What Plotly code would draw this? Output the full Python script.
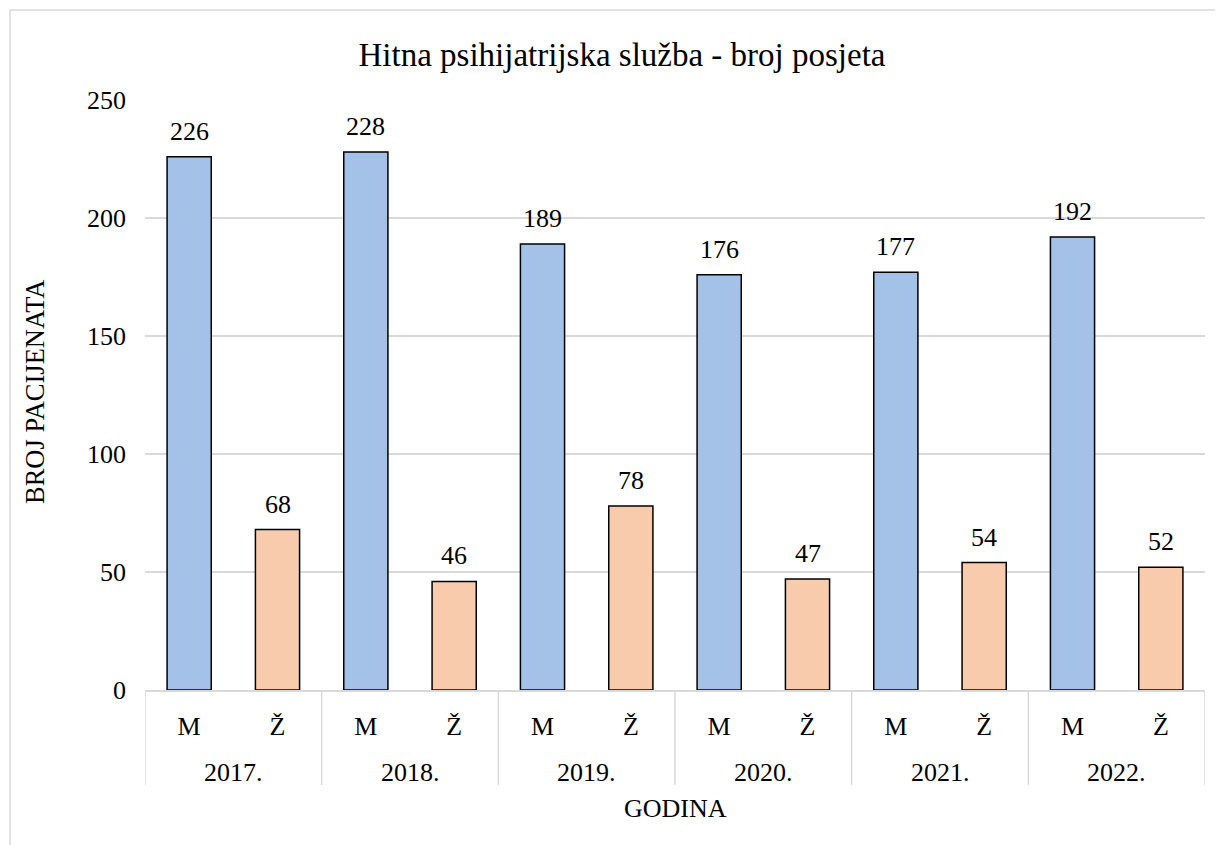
import plotly.graph_objects as go

years = ["2017.", "2018.", "2019.", "2020.", "2021.", "2022."]
genders = ["M", "Ž"]
m_values = [226, 228, 189, 176, 177, 192]
z_values = [68, 46, 78, 47, 54, 52]

title_text = "Hitna psihijatrijska služba - broj posjeta"
y_title = "BROJ PACIJENATA"
x_title = "GODINA"

COLOR_M = "#A4C2E7"
COLOR_Z = "#F8CBAD"
FONT = "Liberation Serif"

cats, labels, vals, cols = [], [], [], []
for i, yr in enumerate(years):
    for g, v, c in ((genders[0], m_values[i], COLOR_M), (genders[1], z_values[i], COLOR_Z)):
        cats.append(f"{yr} {g}")
        labels.append(g)
        vals.append(v)
        cols.append(c)

fig = go.Figure(go.Bar(
    x=cats, y=vals,
    width=0.5,
    marker=dict(color=cols, line=dict(color="black", width=1.5)),
    cliponaxis=False,
))

# page body has an 8px default margin -> shift everything by -8
OFF = 8
ml, mr, mt, mb = 145 - OFF, 18, 100 - OFF, 155
pw, ph = 1060, 590
W = ml + pw + mr
H = mt + ph + mb


def py(ypix):
    """reference pixel y -> paper y"""
    return (690 - ypix) / ph


annotations = []
# value labels
for c, v in zip(cats, vals):
    annotations.append(dict(x=c, y=v, xref="x", yref="y", text=str(v), showarrow=False,
                            yanchor="bottom", yshift=9,
                            font=dict(family=FONT, size=26, color="black")))
# year group labels
for i, yr in enumerate(years):
    annotations.append(dict(x=2 * i + 0.5, y=py(773), xref="x", yref="paper", text=yr,
                            showarrow=False, xanchor="center", yanchor="middle",
                            font=dict(family=FONT, size=26, color="black")))
annotations += [
    dict(text=y_title, x=(35 - 145) / pw, y=py(392), xref="paper", yref="paper",
         textangle=-90, showarrow=False, xanchor="center", yanchor="middle",
         font=dict(family=FONT, size=26.5, color="black")),
    dict(text=x_title, x=(675 - 145) / pw, y=py(808), xref="paper", yref="paper",
         showarrow=False, xanchor="center", yanchor="middle",
         font=dict(family=FONT, size=26, color="black")),
]

shapes = [
    dict(type="rect", xref="paper", yref="paper",
         x0=(10 - 145) / pw, x1=1.5, y0=-1.0, y1=py(10),
         line=dict(color="#D9D9D9", width=1.5), fillcolor="rgba(0,0,0,0)", layer="below"),
]
for k in range(len(years) + 1):
    shapes.append(dict(type="line", xref="x", yref="paper", x0=2 * k - 0.5, x1=2 * k - 0.5,
                       y0=0, y1=py(785), line=dict(color="#D9D9D9", width=1.5)))

fig.update_layout(
    width=W, height=H,
    margin=dict(l=ml, r=mr, t=mt, b=mb),
    plot_bgcolor="white", paper_bgcolor="white",
    font=dict(family=FONT, size=26, color="black"),
    showlegend=False,
    title=dict(text=title_text, x=(622 - OFF) / W, xanchor="center", y=1 - (54 - OFF) / H,
               yanchor="middle", font=dict(family=FONT, size=33, color="black")),
    xaxis=dict(type="category", categoryorder="array", categoryarray=cats,
               tickvals=cats, ticktext=labels, range=[-0.5, len(cats) - 0.5],
               showline=True, linecolor="#D9D9D9", linewidth=1.5,
               tickfont=dict(family=FONT, size=26, color="black"),
               showgrid=False, ticks="", ticklabelstandoff=12),
    yaxis=dict(range=[0, 250], dtick=50, showgrid=True, gridcolor="#D9D9D9", gridwidth=1.5,
               zeroline=False, showline=False, ticks="", ticklabelstandoff=18,
               tickfont=dict(family=FONT, size=26, color="black")),
    annotations=annotations,
    shapes=shapes,
)

fig.write_html("out.html")
